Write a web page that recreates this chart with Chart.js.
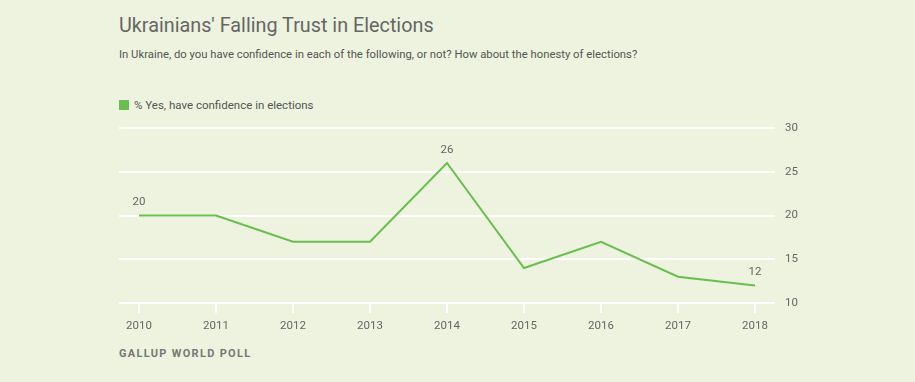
<!doctype html>
<html>
  <head>
    <script src="https://cdnjs.cloudflare.com/ajax/libs/Chart.js/4.4.1/chart.umd.min.js"></script>
    <style>
      body { margin: 0; background: #EDF3DE; font-family: Roboto, "Open Sans", sans-serif; }
      #wrap { position: relative; width: 915px; height: 382px; overflow: hidden; }
      .t { position: absolute; left: 119px; white-space: nowrap; }
      #title { top: 14px; font-size: 19.8px; color: #666; font-weight: 400; }
      #sub { top: 48px; font-size: 11.3px; color: #555; }
      #legend { top: 98px; font-size: 11.5px; color: #555; }
      #legend i { display: inline-block; width: 10px; height: 10px; background: #69BE4F; vertical-align: -1px; margin-right: 5px; }
      #foot { top: 347px; font-size: 11px; color: #777; font-weight: 700; letter-spacing: 1.3px; }
      #box { position: absolute; left: 0; top: 111px; width: 915px; height: 230px; }
    </style>
    <script>
      let years = [2010, 2011, 2012, 2013, 2014, 2015, 2016, 2017, 2018];
      let confidence = [20, 20, 17, 17, 26, 14, 17, 13, 12];
      let labelled = [0, 4, 8];
      let yTicks = [10, 15, 20, 25, 30];

      let pointLabels = {
        id: 'pointLabels',
        afterDatasetsDraw(chart) {
          let ctx = chart.ctx;
          let meta = chart.getDatasetMeta(0);
          ctx.save();
          ctx.font = '11.5px Roboto, "Open Sans", sans-serif';
          ctx.fillStyle = '#666';
          ctx.textAlign = 'center';
          ctx.textBaseline = 'middle';
          labelled.forEach(function(i) {
            let p = meta.data[i];
            ctx.fillText(String(confidence[i]), p.x, p.y - 13);
          });
          ctx.restore();
        }
      };

      function startPage() {
        new Chart(document.getElementById('c1'), {
          type: 'line',
          data: {
            datasets: [{
              label: '% Yes, have confidence in elections',
              data: years.map((y, i) => ({ x: y, y: confidence[i] })),
              borderColor: '#69BE4F',
              borderWidth: 2,
              pointRadius: 0,
              tension: 0
            }]
          },
          options: {
            responsive: false,
            animation: false,
            layout: { padding: { left: 119, top: 17, right: 0, bottom: 0 } },
            plugins: { legend: { display: false }, tooltip: { enabled: false } },
            scales: {
              x: {
                type: 'linear',
                min: 2009.74,
                max: 2018.26,
                afterBuildTicks: function(scale) { scale.ticks = years.map(v => ({ value: v })); },
                afterFit: function(scale) { scale.height = 38; },
                border: { display: false },
                grid: { drawOnChartArea: false, drawTicks: true, tickLength: 10, color: '#fff', lineWidth: 2 },
                ticks: { color: '#666', font: { size: 11.5, family: 'Roboto' }, padding: 6, maxRotation: 0, callback: v => String(v) }
              },
              y: {
                position: 'right',
                min: 10,
                max: 30,
                afterBuildTicks: function(scale) { scale.ticks = yTicks.map(v => ({ value: v })); },
                afterFit: function(scale) { scale.width = 140; },
                border: { display: false },
                grid: { color: '#fff', lineWidth: 2, drawTicks: false },
                ticks: { color: '#666', font: { size: 11.5, family: 'Roboto' }, padding: 10 }
              }
            }
          },
          plugins: [pointLabels]
        });
      }
    </script>
  </head>
  <body onload="startPage()">
    <div id="wrap">
      <div class="t" id="title">Ukrainians' Falling Trust in Elections</div>
      <div class="t" id="sub">In Ukraine, do you have confidence in each of the following, or not? How about the honesty of elections?</div>
      <div class="t" id="legend"><i></i>% Yes, have confidence in elections</div>
      <div id="box"><canvas id="c1" width="915" height="230"></canvas></div>
      <div class="t" id="foot">GALLUP WORLD POLL</div>
    </div>
  </body>
</html>
